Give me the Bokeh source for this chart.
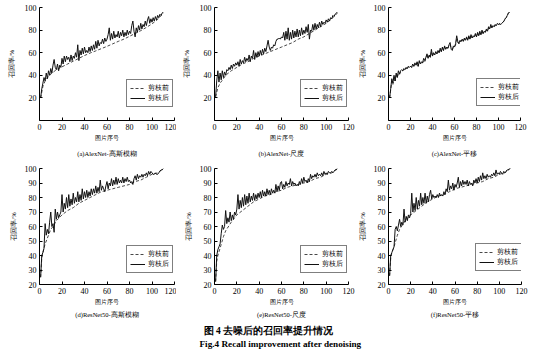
from bokeh.plotting import figure
from bokeh.layouts import column, row
from bokeh.models import FixedTicker, Legend, LegendItem, Title, Range1d
from bokeh.embed import file_html
from bokeh.resources import INLINE
from bokeh.core.properties import value

SERIF = "Liberation Serif"

# ---------------- data ----------------
x_idx = list(range(1, 111))

# (a) AlexNet - Gaussian blur
a_after = [20, 28, 33, 38, 35, 42, 37, 44, 40, 46, 42, 49, 54, 47, 45, 50, 44, 49, 47, 55,
           50, 57, 52, 57, 54, 56, 52, 58, 53, 57, 55, 60, 56, 67, 53, 62, 58, 64, 59, 65,
           60, 62, 60, 65, 61, 66, 62, 67, 63, 70, 64, 71, 66, 69, 68, 72, 68, 73, 70, 72,
           76, 82, 71, 77, 72, 79, 73, 76, 74, 79, 73, 78, 75, 80, 74, 78, 75, 80, 76, 79,
           77, 84, 88, 79, 74, 82, 78, 84, 80, 86, 81, 85, 83, 88, 84, 89, 92, 86, 90, 87,
           91, 88, 92, 89, 93, 91, 94, 93, 95, 96]
a_before_x = [1, 3, 5, 8, 10, 15, 20, 25, 30, 35, 40, 45, 50, 55, 60, 65, 70, 75, 80, 85, 90, 95, 100, 105, 110]
a_before = [20, 30, 35, 39, 41, 45, 47.5, 50, 52.5, 55, 57.5, 59.7, 61.6, 63.6, 65.6, 67.8, 70, 72, 74.5, 77,
            79.5, 82.4, 85.5, 89.4, 95]

# (b) AlexNet - scale
b_after = [21, 35, 44, 34, 42, 36, 44, 38, 43, 40, 45, 44, 47, 45, 49, 46, 50, 48, 51, 49,
           52, 48, 54, 50, 53, 51, 56, 52, 55, 53, 58, 52, 57, 55, 62, 54, 60, 56, 61, 57,
           62, 58, 63, 59, 64, 61, 66, 71, 65, 62, 65, 64, 67, 66, 70, 72, 72, 73, 72, 74,
           73, 78, 71, 79, 72, 82, 71, 78, 72, 80, 73, 79, 74, 81, 74, 80, 75, 82, 76, 80,
           77, 83, 78, 85, 72, 80, 79, 85, 80, 86, 81, 85, 82, 87, 83, 88, 85, 87, 86, 89,
           87, 90, 88, 91, 90, 93, 92, 94, 95, 96]
b_before_x = [1, 3, 5, 8, 10, 15, 20, 25, 30, 35, 40, 45, 50, 55, 60, 65, 70, 75, 80, 85, 90, 95, 100, 105, 110]
b_before = [21, 29, 33, 37, 40, 44, 47, 50, 52, 55, 57, 59, 61, 63, 65, 67, 69, 72, 74, 77,
            80, 83, 86, 90, 95]

# (c) AlexNet - translation
c_after = [20, 28, 37, 33, 40, 35, 42, 38, 44, 41, 44, 45, 44, 46, 45, 47, 46, 48, 47, 48,
           47, 50, 48, 51, 49, 52, 48, 53, 50, 52, 51, 55, 53, 56, 59, 55, 58, 56, 63, 57,
           60, 58, 61, 59, 62, 60, 64, 61, 65, 62, 66, 63, 65, 64, 67, 69, 63, 62, 66, 65,
           68, 75, 70, 68, 71, 70, 72, 70, 73, 71, 74, 71, 75, 72, 76, 73, 75, 74, 77, 74,
           78, 75, 79, 76, 80, 77, 79, 78, 81, 79, 83, 81, 85, 82, 84, 83, 85, 84, 86, 85,
           86, 85, 86, 87, 88, 90, 91, 93, 95, 96]
c_before = [20, 27, 35, 32, 38, 35, 40, 38, 42, 41, 43, 44, 44, 45, 45, 46, 46, 47, 47, 48,
            47, 49, 48, 50, 49, 51, 48, 52, 50, 51, 51, 53, 52, 55, 57, 55, 57, 56, 61, 57,
            59, 58, 60, 59, 61, 60, 63, 61, 64, 62, 65, 63, 64, 64, 66, 67, 64, 63, 65, 65,
            67, 72, 69, 68, 70, 70, 71, 70, 72, 71, 73, 71, 74, 72, 75, 73, 74, 74, 76, 74,
            77, 75, 78, 76, 79, 77, 78, 78, 80, 79, 82, 81, 83, 82, 83, 83, 84, 84, 85, 85,
            85, 85, 86, 87, 88, 90, 91, 93, 95, 96]

# (d) ResNet50 - Gaussian blur
d_after = [25, 40, 42, 45, 62, 54, 58, 55, 63, 70, 60, 62, 56, 72, 65, 70, 66, 68, 70, 82,
           70, 76, 72, 80, 73, 82, 74, 79, 75, 83, 76, 80, 77, 84, 77, 82, 78, 86, 79, 84,
           80, 85, 80, 84, 81, 86, 82, 86, 83, 88, 83, 87, 84, 92, 85, 88, 86, 84, 88, 91,
           86, 90, 88, 93, 88, 92, 89, 94, 89, 93, 90, 92, 90, 94, 90, 93, 91, 94, 91, 92,
           90, 91, 89, 93, 95, 92, 96, 93, 95, 94, 96, 94, 96, 95, 97, 95, 98, 96, 98, 97,
           96, 96, 97, 96, 96, 97, 98, 99, 99, 100]
d_before_x = [1, 2, 3, 5, 8, 10, 12, 15, 20, 25, 30, 35, 40, 45, 50, 55, 60, 65, 70, 75, 80, 85, 90, 95, 100, 105, 110]
d_before = [25, 38, 42, 48, 54, 58, 60, 64, 68, 71, 73, 76, 78, 80, 82, 84, 85, 86, 87, 88,
            89, 91, 92, 94, 96, 97, 100]

# (e) ResNet50 - scale
e_after = [22, 40, 44, 46, 48, 55, 61, 58, 60, 71, 62, 66, 63, 70, 64, 68, 65, 70, 68, 72,
           82, 72, 78, 73, 80, 74, 82, 75, 81, 76, 83, 77, 81, 78, 83, 78, 82, 79, 83, 80,
           84, 80, 85, 81, 84, 81, 86, 82, 85, 82, 86, 83, 85, 83, 89, 84, 88, 85, 90, 91,
           86, 89, 87, 91, 88, 90, 89, 93, 88, 91, 89, 90, 88, 89, 88, 91, 89, 93, 90, 94,
           91, 92, 90, 93, 91, 96, 93, 95, 94, 96, 94, 97, 95, 96, 95, 97, 95, 98, 96, 97,
           96, 98, 97, 97, 98, 97, 98, 99, 99, 100]
e_before_x = [1, 2, 3, 5, 8, 10, 15, 20, 25, 30, 35, 40, 45, 50, 55, 60, 65, 70, 75, 80, 85, 90, 95, 100, 105, 110]
e_before = [22, 36, 40, 45, 53, 57, 63, 68, 71, 74, 77, 79, 81, 82, 84, 85, 87, 88, 89, 90,
            91, 93, 94, 96, 97, 100]

# (f) ResNet50 - translation
f_after = [26, 40, 42, 44, 46, 58, 60, 57, 61, 65, 60, 63, 61, 72, 63, 67, 64, 68, 66, 69,
           83, 70, 76, 71, 80, 72, 78, 74, 83, 75, 80, 76, 83, 76, 81, 77, 82, 85, 79, 82,
           80, 81, 80, 82, 80, 83, 81, 82, 81, 84, 82, 86, 84, 92, 85, 88, 86, 90, 85, 89,
           87, 90, 94, 87, 91, 88, 92, 89, 91, 89, 92, 88, 91, 89, 90, 88, 92, 90, 93, 90,
           94, 91, 95, 92, 97, 93, 95, 93, 96, 94, 95, 94, 96, 95, 97, 95, 99, 96, 97, 96,
           98, 97, 96, 98, 97, 98, 99, 99, 100, 100]
f_before_x = [1, 2, 3, 5, 8, 10, 15, 20, 25, 30, 35, 40, 45, 50, 55, 60, 65, 70, 75, 80, 85, 90, 95, 100, 105, 110]
f_before = [26, 38, 42, 46, 54, 58, 64, 68, 71, 74, 77, 79, 81, 82, 84, 86, 87, 88, 89, 90,
            91, 93, 94, 96, 97, 100]

x_ticks = [0, 20, 40, 60, 80, 100, 120]
y_ticks_top = [20, 40, 60, 80, 100]
y_ticks_bottom = [20, 30, 40, 50, 60, 70, 80, 90, 100]

captions = ["(a)AlexNet-高斯模糊", "(b)AlexNet-尺度", "(c)AlexNet-平移",
            "(d)ResNet50-高斯模糊", "(e)ResNet50-尺度", "(f)ResNet50-平移"]
legend_labels = ["剪枝前", "剪枝后"]
x_label = "图片序号"
y_label = "召回率/%"
fig_title_cn = "图 4  去噪后的召回率提升情况"
fig_title_en = "Fig.4  Recall improvement after denoising"


def panel(after_x, after_y, before_x, before_y, ymin, yticks, width, left, right,
          height, top, bottom, caption, leg_loc, ylab_standoff, cap_standoff):
    p = figure(width=width, height=height, x_range=Range1d(0, 120), y_range=Range1d(ymin, 100),
               output_backend="svg", toolbar_location=None, title=None,
               min_border_left=left, min_border_right=right,
               min_border_top=top, min_border_bottom=bottom)
    p.outline_line_color = None
    p.xgrid.visible = False
    p.ygrid.visible = False
    p.background_fill_color = "white"
    p.border_fill_color = "white"

    for ax in (p.xaxis[0], p.yaxis[0]):
        ax.axis_line_color = "black"
        ax.axis_line_width = 1
        ax.major_tick_line_color = "black"
        ax.major_tick_in = 3
        ax.major_tick_out = 0
        ax.minor_tick_line_color = None
        ax.major_label_text_font = SERIF
        ax.major_label_text_font_size = "8px"
        ax.major_label_text_color = "black"
        ax.major_label_standoff = 3
        ax.axis_label_text_font = SERIF
        ax.axis_label_text_font_style = "normal"
        ax.axis_label_text_color = "black"
    p.xaxis.axis_label_text_font_size = "6px"
    p.yaxis.axis_label_text_font_size = "6.5px"
    p.xaxis.ticker = FixedTicker(ticks=x_ticks)
    p.yaxis.ticker = FixedTicker(ticks=yticks)
    p.xaxis.axis_label = x_label
    p.yaxis.axis_label = y_label
    p.xaxis.axis_label_standoff = 2
    p.yaxis.axis_label_standoff = ylab_standoff

    r_before = p.line(before_x, before_y, line_color="#333333", line_width=0.9, line_dash="3 2")
    r_after = p.line(after_x, after_y, line_color="#111111", line_width=1)

    leg = Legend(items=[LegendItem(label=legend_labels[0], renderers=[r_before]),
                        LegendItem(label=legend_labels[1], renderers=[r_after])],
                 location=leg_loc)
    leg.border_line_color = "black"
    leg.border_line_width = 0.8
    leg.background_fill_color = "white"
    leg.background_fill_alpha = 1
    leg.padding = 3
    leg.margin = 0
    leg.spacing = 0
    leg.glyph_width = 15
    leg.glyph_height = 10
    leg.label_height = 10
    leg.label_width = 21
    leg.label_standoff = 3
    leg.label_text_font = SERIF
    leg.label_text_font_size = "7px"
    leg.label_text_color = "black"
    p.add_layout(leg)

    t = Title(text=caption, align="center", text_font=SERIF, text_font_size="6.5px",
              text_font_style="normal", text_color="black", standoff=cap_standoff)
    p.add_layout(t, "below")
    return p


fa = panel(x_idx, a_after, a_before_x, a_before, 0, y_ticks_top, 176, 39, 2, 160, 7, 39,
           captions[0], (87, 13), 7, 8)
fb = panel(x_idx, b_after, b_before_x, b_before, 0, y_ticks_top, 179, 38, 7, 160, 7, 39,
           captions[1], (86, 13), 7, 8)
fc = panel(x_idx, c_after, x_idx, c_before, 0, y_ticks_top, 184, 30, 19, 160, 7, 39,
           captions[2], (88, 14), 5, 8)
fd = panel(x_idx, d_after, d_before_x, d_before, 20, y_ticks_bottom, 176, 39, 2, 160, 8, 36,
           captions[3], (87, 11), 5, 3)
fe = panel(x_idx, e_after, e_before_x, e_before, 20, y_ticks_bottom, 179, 38, 7, 160, 8, 36,
           captions[4], (86, 11), 5, 3)
ff = panel(x_idx, f_after, f_before_x, f_before, 20, y_ticks_bottom, 184, 31, 18, 160, 8, 36,
           captions[5], (87, 13), 5, 3)

cap = figure(width=539, height=34, x_range=Range1d(0, 539), y_range=Range1d(34, 0),
             output_backend="svg", toolbar_location=None, title=None,
             min_border=0, x_axis_location=None, y_axis_location=None)
cap.outline_line_color = None
cap.xgrid.visible = False
cap.ygrid.visible = False
cap.text(x=[203], y=[10.5], text=[fig_title_cn], text_font=value(SERIF),
         text_font_size="9.5px", text_font_style="bold", text_baseline="middle",
         text_align="left", text_color="black")
cap.text(x=[199], y=[23], text=[fig_title_en], text_font=value(SERIF),
         text_font_size="9.2px", text_font_style="bold", text_baseline="middle",
         text_align="left", text_color="black")

layout = column(row(fa, fb, fc, spacing=0), row(fd, fe, ff, spacing=0), cap, spacing=0)

open("out.html", "w").write(file_html(layout, INLINE))
